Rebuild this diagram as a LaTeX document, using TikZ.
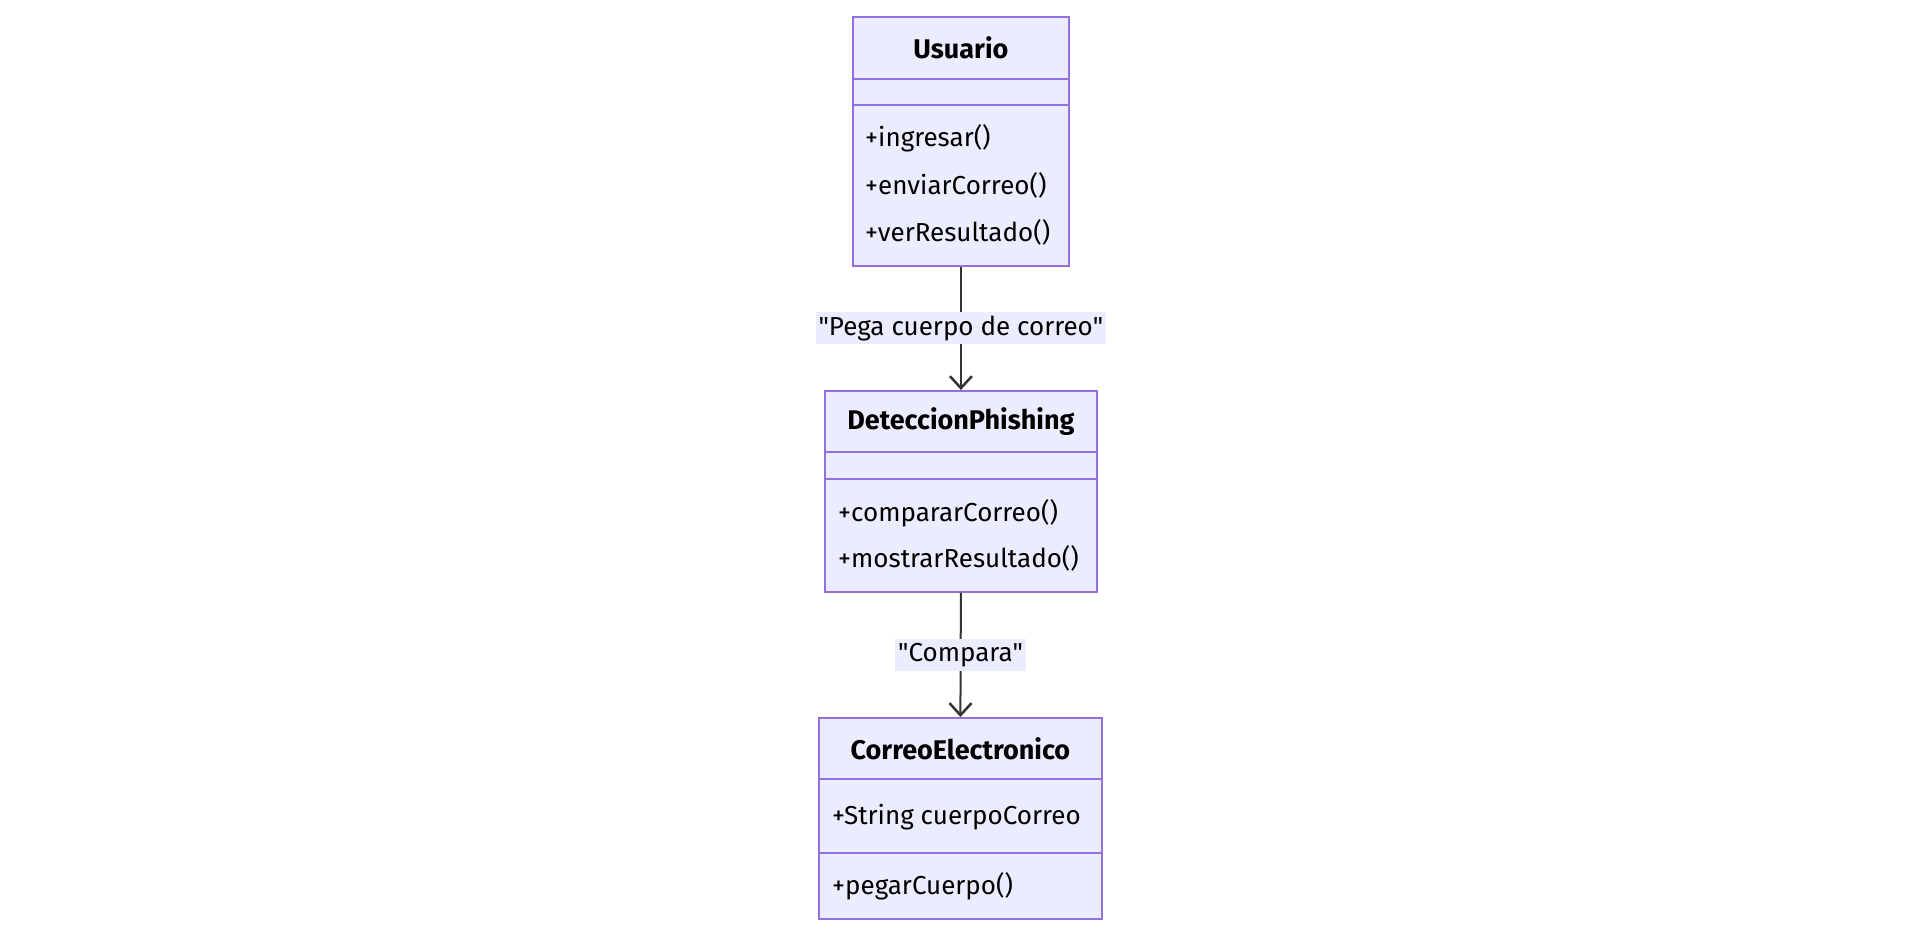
\documentclass[tikz,border=0pt]{standalone}
\usepackage{fontspec}
\setmainfont{Fira Sans}
\usetikzlibrary{arrows.meta}

\definecolor{boxfill}{HTML}{ECECFF}
\definecolor{boxline}{HTML}{9370DB}
\definecolor{edgeline}{HTML}{333333}

\tikzset{
  part/.style={draw=boxline, fill=boxfill, line width=1.8pt, rectangle,
    anchor=north west, inner sep=0pt},
  classname/.style={font=\fontsize{27}{32}\selectfont\bfseries},
  member/.style={anchor=west, inner sep=0pt, font=\fontsize{26}{31}\selectfont},
  elabel/.style={fill=boxfill, inner xsep=3pt, inner ysep=0pt, minimum height=32pt,
    font=\fontsize{26}{31}\selectfont},
  assoc/.style={draw=edgeline, line width=2pt,
    -{Straight Barb[length=12pt, width=22pt, line width=2.5pt]}}
}

\begin{document}
\begin{tikzpicture}[x=1pt, y=-1pt]
  \useasboundingbox (0,0) rectangle (1919,929);

  % Usuario
  \node[part, classname, minimum width=216pt, minimum height=62pt] (usrTitle) at (852,16) {Usuario};
  \node[part, minimum width=216pt, minimum height=26pt] (usrAttr) at (852,78) {};
  \node[part, minimum width=216pt, minimum height=161pt] (usrOps) at (852,104) {};
  \node[member] (usrOpA) at (865,138) {+ingresar()};
  \node[member] (usrOpB) at (865,185) {+enviarCorreo()};
  \node[member] (usrOpC) at (865,232) {+verResultado()};

  % DeteccionPhishing
  \node[part, classname, minimum width=272pt, minimum height=61pt] (detTitle) at (824,390) {DeteccionPhishing};
  \node[part, minimum width=272pt, minimum height=27pt] (detAttr) at (824,451) {};
  \node[part, minimum width=272pt, minimum height=113pt] (detOps) at (824,478) {};
  \node[member] (detOpA) at (838,513) {+compararCorreo()};
  \node[member] (detOpB) at (838,558) {+mostrarResultado()};

  % CorreoElectronico
  \node[part, classname, minimum width=283pt, minimum height=61pt] (mailTitle) at (818,717) {CorreoElectronico};
  \node[part, minimum width=283pt, minimum height=74pt] (mailAttr) at (818,778) {};
  \node[part, minimum width=283pt, minimum height=66pt] (mailOps) at (818,852) {};
  \node[member] (mailAttrA) at (832,817) {+String cuerpoCorreo};
  \node[member] (mailOpA) at (832,886) {+pegarCuerpo()};

  \draw[assoc] (usrOps.south) -- node[elabel] {\textquotedbl Pega cuerpo de correo\textquotedbl} (detTitle.north);
  \draw[assoc] (detOps.south) -- node[elabel] {\textquotedbl Compara\textquotedbl} (mailTitle.north);

\end{tikzpicture}
\end{document}
